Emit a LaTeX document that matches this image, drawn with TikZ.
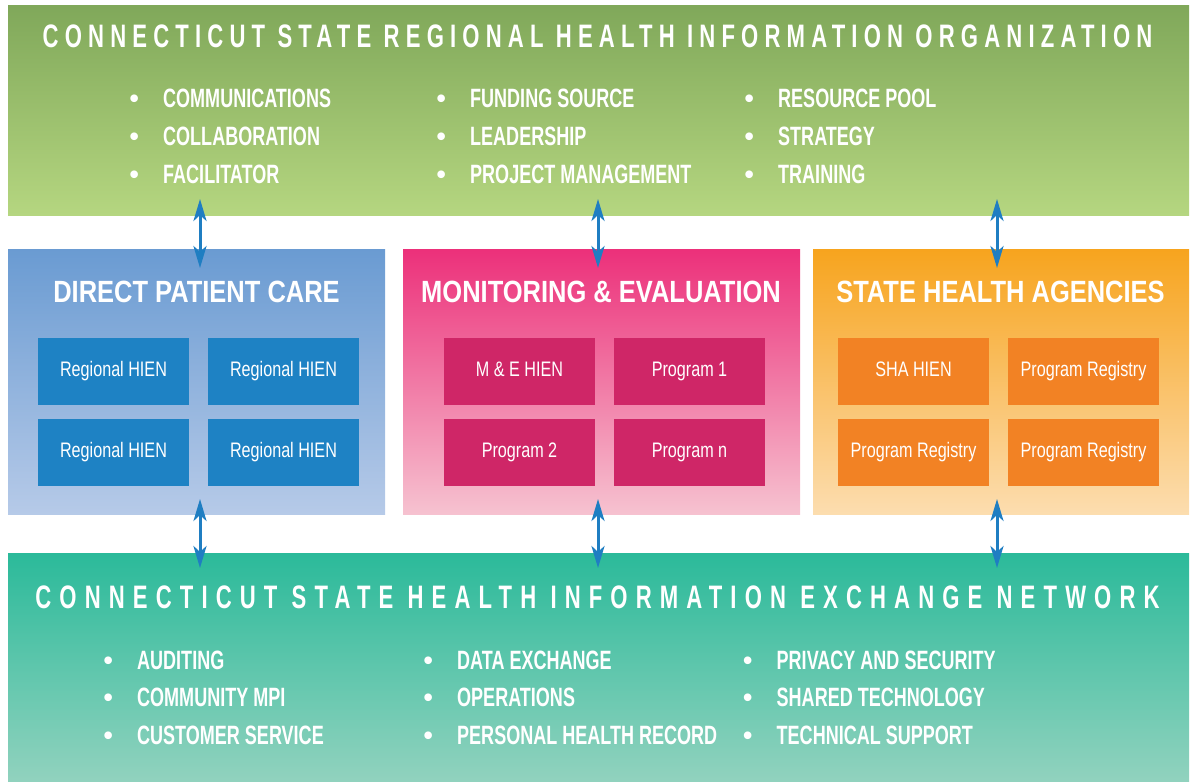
\documentclass[tikz,border=0pt]{standalone}
\usepackage{fontspec}
\setmainfont{Liberation Sans}
\newfontfamily\bandfont{Liberation Sans Bold}[FakeStretch=0.68]
\newfontfamily\headfont{Liberation Sans Bold}[FakeStretch=0.83]
\newfontfamily\itemfont{Liberation Sans Bold}[FakeStretch=0.68]
\newfontfamily\boxfont{Liberation Sans}[FakeStretch=0.77]
\newfontfamily\dotfont{Liberation Sans Bold}
\usetikzlibrary{arrows.meta}

\definecolor{rhotop}{HTML}{80A85A}
\definecolor{rhobot}{HTML}{B5D680}
\definecolor{dpctop}{HTML}{6A9BD2}
\definecolor{dpcbot}{HTML}{B6CAE8}
\definecolor{dpcbox}{HTML}{1E82C4}
\definecolor{metop}{HTML}{EC307A}
\definecolor{mebot}{HTML}{F6C2D0}
\definecolor{mebox}{HTML}{CF2667}
\definecolor{shatop}{HTML}{F7A41E}
\definecolor{shabot}{HTML}{FCDDAF}
\definecolor{shabox}{HTML}{F28224}
\definecolor{hietop}{HTML}{2BBA9A}
\definecolor{hiebot}{HTML}{91D2BE}
\definecolor{linkblue}{HTML}{1F7EC2}

\newcommand{\itm}[1]{\makebox[33.5pt][l]{\dotfont\textbullet}#1}

\tikzset{
	band/.style={inner sep=0, minimum width=1181, minimum height=#1},
	group/.style={inner sep=0, minimum width=#1, minimum height=265},
	sub/.style={inner sep=0, minimum width=151, minimum height=67, text=white,
		text height=15, text depth=4.5, font=\boxfont\fontsize{21}{21}\selectfont},
	head/.style={anchor=base, inner sep=0, text=white,
		font=\headfont\fontsize{30.7}{31}\selectfont},
	item/.style={anchor=base west, inner sep=0, text=white,
		font=\itemfont\fontsize{26.5}{27}\selectfont},
	link/.style={line width=3pt, draw=linkblue,
		{Stealth[length=22pt, width=13pt, inset=6pt]}-{Stealth[length=22pt, width=13pt, inset=6pt]}}
}

\begin{document}
\begin{tikzpicture}[x=1pt, y=1pt]
	\useasboundingbox (0, 0) rectangle (1190, -781);

	% top band
	\node[band=209, top color=rhotop, bottom color=rhobot](rho) at (598.5, -110.5){};
	\node[anchor=base, inner sep=0, text=white](rhot) at (597.5, -48)
		{\bandfont\fontsize{32.5}{32}\selectfont\addfontfeature{LetterSpace=19}CONNECTICUT STATE REGIONAL HEALTH INFORMATION ORGANIZATION};
	\foreach \t [count=\i] in {COMMUNICATIONS, COLLABORATION, FACILITATOR}
		\node[item](ra\i) at (129.5, {-108-37.5*(\i-1)}){\itm{\t}};
	\foreach \t [count=\i] in {FUNDING SOURCE, LEADERSHIP, PROJECT MANAGEMENT}
		\node[item](rb\i) at (436.5, {-108-37.5*(\i-1)}){\itm{\t}};
	\foreach \t [count=\i] in {RESOURCE POOL, STRATEGY, TRAINING}
		\node[item](rc\i) at (744.5, {-108-37.5*(\i-1)}){\itm{\t}};

	% middle groups
	\node[group=377, top color=dpctop, bottom color=dpcbot](dpc) at (196.5, -381.5){};
	\node[group=397, top color=metop, bottom color=mebot](me) at (601.5, -381.5){};
	\node[group=376, top color=shatop, bottom color=shabot](sha) at (1001, -381.5){};
	\node[head](dpct) at (196.5, -302){DIRECT PATIENT CARE};
	\node[head](met) at (601, -302){MONITORING \& EVALUATION};
	\node[head](shat) at (1000.5, -302){STATE HEALTH AGENCIES};

	\node[sub, fill=dpcbox](d1) at (113.5, -371.5){Regional HIEN};
	\node[sub, fill=dpcbox](d2) at (283.5, -371.5){Regional HIEN};
	\node[sub, fill=dpcbox](d3) at (113.5, -452.5){Regional HIEN};
	\node[sub, fill=dpcbox](d4) at (283.5, -452.5){Regional HIEN};
	\node[sub, fill=mebox](m1) at (519.5, -371.5){M \& E HIEN};
	\node[sub, fill=mebox](m2) at (689.5, -371.5){Program 1};
	\node[sub, fill=mebox](m3) at (519.5, -452.5){Program 2};
	\node[sub, fill=mebox](m4) at (689.5, -452.5){Program n};
	\node[sub, fill=shabox](s1) at (913.5, -371.5){SHA HIEN};
	\node[sub, fill=shabox](s2) at (1083.5, -371.5){Program Registry};
	\node[sub, fill=shabox](s3) at (913.5, -452.5){Program Registry};
	\node[sub, fill=shabox](s4) at (1083.5, -452.5){Program Registry};

	% bottom band
	\node[band=228, top color=hietop, bottom color=hiebot](hie) at (598.5, -667){};
	\node[anchor=base, inner sep=0, text=white](hiet) at (597.5, -608)
		{\bandfont\fontsize{32.5}{32}\selectfont\addfontfeature{LetterSpace=25}CONNECTICUT STATE HEALTH INFORMATION EXCHANGE NETWORK};
	\foreach \t [count=\i] in {AUDITING, COMMUNITY MPI, CUSTOMER SERVICE}
		\node[item](ha\i) at (103.5, {-669-37.5*(\i-1)}){\itm{\t}};
	\foreach \t [count=\i] in {DATA EXCHANGE, OPERATIONS, PERSONAL HEALTH RECORD}
		\node[item](hb\i) at (423.5, {-669-37.5*(\i-1)}){\itm{\t}};
	\foreach \t [count=\i] in {PRIVACY AND SECURITY, SHARED TECHNOLOGY, TECHNICAL SUPPORT}
		\node[item](hc\i) at (743, {-669-37.5*(\i-1)}){\itm{\t}};

	% links
	\coordinate(a1) at (200, -199);
	\coordinate(a2) at (200, -268);
	\coordinate(b1) at (598, -199);
	\coordinate(b2) at (598, -268);
	\coordinate(c1) at (997, -199);
	\coordinate(c2) at (997, -268);
	\coordinate(a3) at (200, -499);
	\coordinate(a4) at (200, -568);
	\coordinate(b3) at (598, -499);
	\coordinate(b4) at (598, -568);
	\coordinate(c3) at (997, -499);
	\coordinate(c4) at (997, -568);
	\draw[link] (a1)--(a2);
	\draw[link] (b1)--(b2);
	\draw[link] (c1)--(c2);
	\draw[link] (a3)--(a4);
	\draw[link] (b3)--(b4);
	\draw[link] (c3)--(c4);
\end{tikzpicture}
\end{document}
